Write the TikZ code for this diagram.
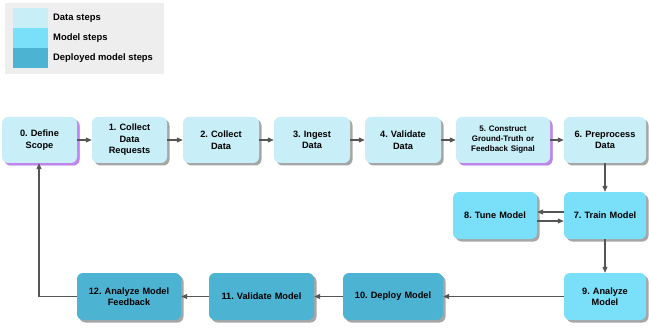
\documentclass[tikz,border=0pt]{standalone}
\usepackage{fontspec}
\setmainfont{Liberation Sans}
\usetikzlibrary{shadows,arrows.meta}
\definecolor{datac}{HTML}{C8EEF8}
\definecolor{modelc}{HTML}{7ADFF8}
\definecolor{deployc}{HTML}{4DB3D3}
\definecolor{legendbg}{HTML}{EEEEEE}
\definecolor{linec}{HTML}{555555}
\definecolor{glowc}{HTML}{C77DFF}
\frenchspacing
\tikzset{
  stepbase/.style={rounded corners=6pt, inner sep=1pt, align=center,
    font=\bfseries\fontsize{9.2}{11.5}\selectfont, text=black,
    drop shadow={shadow xshift=2.5pt, shadow yshift=-2.5pt, fill=black, opacity=0.35}},
  glow/.style={drop shadow={shadow xshift=2.5pt, shadow yshift=-2.5pt, fill=glowc, opacity=0.8}},
  datastep/.style={stepbase, fill=datac},
  modelstep/.style={stepbase, fill=modelc},
  deploystep/.style={stepbase, fill=deployc},
  flow/.style={draw=linec, line width=1.1pt, -{Triangle[length=6pt,width=5pt]}},
  swatch/.style={inner sep=0pt, minimum width=35pt, minimum height=20pt},
  legtext/.style={anchor=west, inner sep=0pt, font=\bfseries\fontsize{9.4}{11}\selectfont}
}
\newcommand{\boxat}[7]{% name, style, x1, y1, x2, y2, text
  \node[#2, minimum width={#5-#3}, minimum height={#6-#4}, text width={#5-#3-6}]
    (#1) at ({(#3+#5)/2},{(#4+#6)/2}) {#7};}
\begin{document}
\begin{tikzpicture}[x=1pt, y=-1pt]
\useasboundingbox (0,0) rectangle (649,329);
% legend
\fill[legendbg] (5,3) rectangle (164,74);
\node[swatch, fill=datac] (swd) at (30.5,18) {};
\node[swatch, fill=modelc] (swm) at (30.5,38) {};
\node[swatch, fill=deployc] (swp) at (30.5,58) {};
\node[legtext] (ld) at (53,18) {Data steps};
\node[legtext] (lm) at (53,38) {Model steps};
\node[legtext] (lp) at (53,58) {Deployed model steps};
% steps
\boxat{s0}{datastep,glow}{2}{117}{77}{163}{0. Define\\Scope}
\boxat{s1}{datastep}{92}{117}{167}{163}{1. Collect\\Data\\Requests}
\boxat{s2}{datastep}{183}{117}{259}{163}{2. Collect\\Data}
\boxat{s3}{datastep}{274}{117}{350}{163}{3. Ingest\\Data}
\boxat{s4}{datastep}{365}{117}{441}{163}{4. Validate\\Data}
\boxat{s5}{datastep,glow,font=\bfseries\fontsize{8}{10}\selectfont}{456}{117}{550}{163}{5. Construct\\Ground-Truth or\\Feedback Signal}
\boxat{s6}{datastep}{564}{117}{646}{163}{6. Preprocess\\Data}
\boxat{s8}{modelstep}{453}{192}{537}{239}{8. Tune Model}
\boxat{s7}{modelstep}{564}{192}{646}{239}{7. Train Model}
\boxat{s9}{modelstep}{564}{273}{646}{320}{9. Analyze\\Model}
\boxat{s10}{deploystep}{343}{273}{443}{320}{10. Deploy Model}
\boxat{s11}{deploystep}{209}{273}{314}{320}{11. Validate Model}
\boxat{s12}{deploystep}{77}{273}{181}{320}{12. Analyze Model\\Feedback}
% connectors
\draw[flow] (s0) -- (s1);
\draw[flow] (s1) -- (s2);
\draw[flow] (s2) -- (s3);
\draw[flow] (s3) -- (s4);
\draw[flow] (s4) -- (s5);
\draw[flow] (s5) -- (s6);
\draw[flow] (s6) -- (s7);
\draw[flow] ([yshift=3.5pt]s7.west) -- ([yshift=3.5pt]s8.east);
\draw[flow] ([yshift=-5.5pt]s8.east) -- ([yshift=-5.5pt]s7.west);
\draw[flow] (s7) -- (s9);
\draw[flow] (s9) -- (s10);
\draw[flow] (s10) -- (s11);
\draw[flow] (s11) -- (s12);
\draw[flow] (s12.west) -| (s0.south -| 39,0);
\end{tikzpicture}
\end{document}
